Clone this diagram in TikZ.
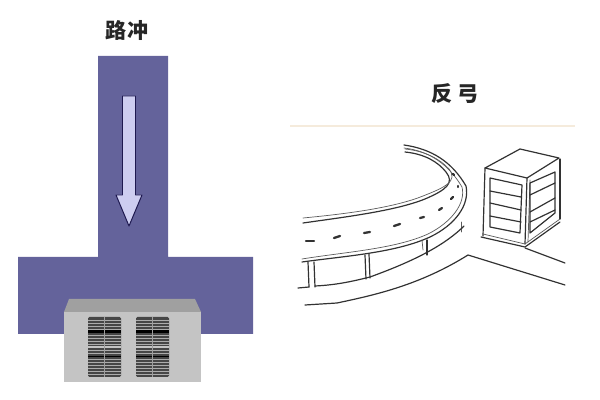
\documentclass[tikz,border=0pt]{standalone}
\usepackage{fontspec}
\newfontfamily\cjkfont{Noto Sans CJK SC}
\usepackage{tikz}
\definecolor{roadblue}{RGB}{100, 99, 155}
\definecolor{arrowlilac}{RGB}{205, 205, 240}
\definecolor{arrowdark}{RGB}{30, 25, 80}
\definecolor{wallgrey}{RGB}{196, 196, 196}
\definecolor{roofgrey}{RGB}{160, 160, 160}
\definecolor{windowgrey}{RGB}{70, 70, 70}
\definecolor{sketchgrey}{RGB}{50, 50, 50}
\definecolor{rulecream}{RGB}{245, 235, 220}
\tikzset{
  titlelabel/.style={font=\cjkfont\bfseries\fontsize{15pt}{15pt}\selectfont, text=black!85, inner sep=0pt},
  sketchline/.style={draw=sketchgrey, line width=0.85pt, line cap=round, line join=round},
  sketchthin/.style={draw=sketchgrey!80, line width=0.5pt, line cap=round, line join=round},
  roaddash/.style={draw=sketchgrey, line width=1.6pt, line cap=round}
}
\begin{document}
\begin{tikzpicture}[x=0.025cm, y=-0.025cm]
  \useasboundingbox (0, 0) rectangle (600, 400);

  % Left: road running into the building
  \node[titlelabel] (lutitle) at (127, 30) {路冲};
  \fill[roadblue] (98, 56) -- (168, 56) -- (168, 257) -- (253, 257) -- (253, 334)
    -- (18, 334) -- (18, 257) -- (98, 257) -- cycle;

  % Arrow on the road
  \draw[draw=arrowdark, fill=arrowlilac, line width=0.7pt, line join=round]
    (122.5, 96) -- (135.5, 96) -- (135.5, 195) -- (142, 195) -- (129, 226)
    -- (116, 195) -- (122.5, 195) -- cycle;

  % Building
  \fill[roofgrey] (69, 299) -- (195, 299) -- (201, 312) -- (64, 312) -- cycle;
  \fill[wallgrey] (64, 312) rectangle (201, 382);
  \foreach \wx in {88, 136} {
    \fill[windowgrey, rounded corners=1pt] (\wx, 317) rectangle ++(33, 60);
    \foreach \wy in {320, 323, ..., 375} {
      \draw[white!55!windowgrey, line width=0.3pt] (\wx, \wy) -- ++(33, 0);
    }
    \draw[black, line width=1.6pt] (\wx, 331.5) -- ++(33, 0);
    \draw[black, line width=0.9pt] (\wx, 356.5) -- ++(33, 0);
    \draw[wallgrey, line width=0.8pt] (\wx, 347) -- ++(33, 0);
    \draw[wallgrey!70!windowgrey, line width=0.6pt] (\wx+16.5, 317) -- ++(0, 60);
  }

  % Right: curved road and the house
  \node[titlelabel] (fantitle) at (455, 94) {反\hspace{4pt}弓};
  \draw[rulecream, line width=1pt] (290, 126) -- (575, 126);

  % Road edges
  \draw[sketchline] (404, 145) .. controls (432, 149) and (452, 162) .. (466, 186)
    .. controls (470, 205) and (455, 225) .. (430, 237)
    .. controls (395, 253) and (345, 256) .. (302, 262);
  \draw[sketchthin] (404, 148) .. controls (430, 151) and (449, 165) .. (462, 187)
    .. controls (466, 203) and (452, 222) .. (428, 234)
    .. controls (395, 249) and (345, 252) .. (302, 259);
  \draw[sketchline] (405, 152) .. controls (425, 154) and (438, 162) .. (446, 172)
    .. controls (455, 183) and (446, 190) .. (425, 199)
    .. controls (395, 211) and (345, 217) .. (303, 223);
  \draw[sketchthin] (405, 149) .. controls (425, 151) and (440, 159) .. (449, 169)
    .. controls (458, 181) and (446, 187) .. (423, 196)
    .. controls (393, 208) and (345, 214) .. (303, 218);

  % Road centre dashes
  \foreach \ax/\ay/\bx/\by in {306/241/314/241, 334/238/340/236, 364/233/370/232,
    394/226/400/224, 420/218/424/217, 439/210/442/208, 451/199/453/197,
    458/187/458/186, 454/175/453/174} {
    \draw[roaddash] (\ax, \ay) -- (\bx, \by);
  }

  % Pillars and the underside of the road
  \draw[sketchline] (308, 262) -- (309, 287);
  \draw[sketchline] (314, 262) -- (315, 287);
  \draw[sketchline] (365, 255) -- (366, 279);
  \draw[sketchline] (369, 254) -- (370, 278);
  \draw[sketchthin] (422, 240) -- (423, 250);
  \draw[sketchline] (427, 240) -- (427, 255);
  \draw[sketchthin] (461, 222) -- (461, 232);
  \draw[sketchline] (298, 288) -- (309, 287);
  \draw[sketchline] (315, 286) .. controls (335, 285) and (350, 282) .. (370, 277)
    .. controls (400, 266) and (440, 250) .. (464, 226);

  % Ground lines
  \draw[sketchline] (305, 305) -- (337, 303) .. controls (375, 295) and (420, 285) .. (468, 255)
    -- (565, 285);
  \draw[sketchline] (525, 248) -- (565, 263);

  % House
  \draw[sketchline] (485, 168) -- (520, 149) -- (559, 158) -- (527, 178) -- cycle;
  \draw[sketchline] (485, 168) -- (483, 236);
  \draw[sketchline] (527, 178) -- (525, 244);
  \draw[sketchthin] (530, 180) -- (528, 242);
  \draw[sketchline] (560, 159) -- (560, 219);
  \draw[sketchline] (481, 237) -- (525, 247) -- (560, 222);
  \draw[sketchthin] (483, 234) -- (525, 244) -- (560, 219);
  % Left face window
  \draw[sketchline] (490, 178) -- (522, 185) -- (520, 233) -- (490, 227) -- cycle;
  \foreach \ly/\ry in {191/197, 203/210, 216/222} {
    \draw[sketchline] (490, \ly) -- (521, \ry);
  }
  % Right face window
  \draw[sketchline] (530, 183) -- (555, 172) -- (555, 213) -- (530, 233) -- cycle;
  \foreach \ly/\ry in {195/183, 212/198, 222/210} {
    \draw[sketchline] (530, \ly) -- (555, \ry);
  }
\end{tikzpicture}
\end{document}
